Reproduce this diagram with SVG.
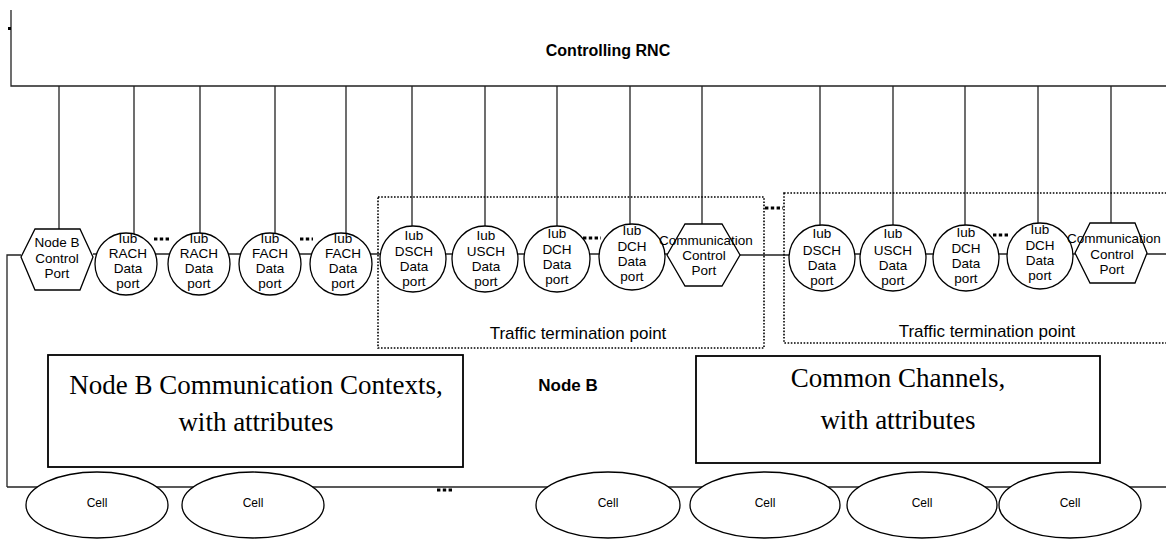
<svg xmlns="http://www.w3.org/2000/svg" width="1166" height="541" viewBox="0 0 1166 541">
<style>
.ln{stroke:#222;stroke-width:1.3;fill:none}
.sh{stroke:#000;stroke-width:1.3;fill:#fff}
.t{font-family:"Liberation Sans",Arial,sans-serif;font-size:13.5px;text-anchor:middle;fill:#000}
.c{font-family:"Liberation Sans",Arial,sans-serif;font-size:12px;text-anchor:middle;fill:#000}
.b{font-family:"Liberation Sans",Arial,sans-serif;font-size:16px;font-weight:bold;text-anchor:middle;fill:#000}
.b2{font-family:"Liberation Sans",Arial,sans-serif;font-size:17px;font-weight:bold;text-anchor:middle;fill:#000}
.tt{font-family:"Liberation Sans",Arial,sans-serif;font-size:17px;text-anchor:middle;fill:#000}
.tm{font-family:"Liberation Serif","Times New Roman",serif;font-size:27px;text-anchor:middle;fill:#000}
.dots{stroke:#000;stroke-width:3.2;stroke-dasharray:3.4 2.4;fill:none}
.dr{stroke:#000;stroke-width:1.6;stroke-dasharray:1.6 1.6;fill:none}
.bx{stroke:#000;stroke-width:1.8;fill:#fff}
</style>
<rect width="1166" height="541" fill="#fff"/>

<g id="rnc">
<path class="ln" d="M11,10 V86 H1166"/>
<rect x="8" y="27" width="3" height="3" fill="#000"/>
<text class="b" x="608" y="56">Controlling RNC</text>
</g>

<g id="connectors">
<path class="ln" d="M59,86V229 M134,86V234 M200,86V233 M275,86V233 M346,86V233"/>
<path class="ln" d="M412,86V226 M485,86V226 M557,86V226 M630,86V224 M702,86V224"/>
<path class="ln" d="M820,86V225 M893,86V225 M965,86V225 M1038,86V223 M1111,86V223"/>
<path class="ln" d="M7,487 V255 H21 M93,254 H97 M155,254 H170 M228,254 H241 M299,254 H312 M370,254 H381 M445,254 H453 M517,254 H525 M589,254 H600 M664,254 H668 M740,255 H791 M855,254 H861 M925,254 H934 M998,254 H1008 M1072,254 H1075 M1147,254 H1166"/>
<path class="ln" d="M7,487 H1166"/>
<path class="dots" d="M154,239 H171 M300,239 H313 M583,238 H601 M993,235 H1009 M765,208 H783 M437,490 H452"/>
</g>

<g id="ttp1"><rect class="dr" x="378" y="197" width="386" height="151"/><text class="tt" x="578" y="339">Traffic termination point</text></g>
<g id="ttp2"><rect class="dr" x="784" y="193" width="390" height="150"/><text class="tt" x="987" y="337">Traffic termination point</text></g>

<g id="nodeb-control-port">
<polygon class="sh" points="21,257 35,229 80,229 93,257 80,290 35,290"/>
<text class="t" x="57" y="247">Node B</text><text class="t" x="57" y="263">Control</text><text class="t" x="57" y="278">Port</text>
</g>
<g id="rach1"><circle class="sh" cx="126" cy="264" r="31"/><text class="t" x="128" y="243">Iub</text><text class="t" x="128" y="258">RACH</text><text class="t" x="128" y="273">Data</text><text class="t" x="128" y="288">port</text></g>
<g id="rach2"><circle class="sh" cx="199" cy="264" r="31"/><text class="t" x="199" y="243">Iub</text><text class="t" x="199" y="258">RACH</text><text class="t" x="199" y="273">Data</text><text class="t" x="199" y="288">port</text></g>
<g id="fach1"><circle class="sh" cx="270" cy="264" r="31"/><text class="t" x="270" y="243">Iub</text><text class="t" x="270" y="258">FACH</text><text class="t" x="270" y="273">Data</text><text class="t" x="270" y="288">port</text></g>
<g id="fach2"><circle class="sh" cx="341" cy="264" r="31"/><text class="t" x="343" y="243">Iub</text><text class="t" x="343" y="258">FACH</text><text class="t" x="343" y="273">Data</text><text class="t" x="343" y="288">port</text></g>

<g id="dsch1"><circle class="sh" cx="413" cy="259" r="33"/><text class="t" x="414" y="240">Iub</text><text class="t" x="414" y="256">DSCH</text><text class="t" x="414" y="271">Data</text><text class="t" x="414" y="286">port</text></g>
<g id="usch1"><circle class="sh" cx="485" cy="259" r="33"/><text class="t" x="486" y="240">Iub</text><text class="t" x="486" y="256">USCH</text><text class="t" x="486" y="271">Data</text><text class="t" x="486" y="286">port</text></g>
<g id="dch1"><circle class="sh" cx="557" cy="259" r="33"/><text class="t" x="557" y="238">Iub</text><text class="t" x="557" y="254">DCH</text><text class="t" x="557" y="269">Data</text><text class="t" x="557" y="284">port</text></g>
<g id="dch1b"><circle class="sh" cx="632" cy="257" r="33"/><text class="t" x="632" y="235">Iub</text><text class="t" x="632" y="251">DCH</text><text class="t" x="632" y="266">Data</text><text class="t" x="632" y="281">port</text></g>
<g id="ccp1"><polygon class="sh" points="667,255 685,224 722,224 740,255 722,286 685,286"/><text class="t" x="706" y="245">Communication</text><text class="t" x="704" y="260">Control</text><text class="t" x="704" y="275">Port</text></g>

<g id="dsch2"><circle class="sh" cx="822" cy="258" r="33"/><text class="t" x="822" y="238">Iub</text><text class="t" x="822" y="255">DSCH</text><text class="t" x="822" y="270">Data</text><text class="t" x="822" y="285">port</text></g>
<g id="usch2"><circle class="sh" cx="893" cy="258" r="33"/><text class="t" x="893" y="238">Iub</text><text class="t" x="893" y="255">USCH</text><text class="t" x="893" y="270">Data</text><text class="t" x="893" y="285">port</text></g>
<g id="dch2"><circle class="sh" cx="966" cy="258" r="33"/><text class="t" x="966" y="237">Iub</text><text class="t" x="966" y="253">DCH</text><text class="t" x="966" y="268">Data</text><text class="t" x="966" y="283">port</text></g>
<g id="dch2b"><circle class="sh" cx="1040" cy="256" r="33"/><text class="t" x="1040" y="234">Iub</text><text class="t" x="1040" y="250">DCH</text><text class="t" x="1040" y="265">Data</text><text class="t" x="1040" y="280">port</text></g>
<g id="ccp2"><polygon class="sh" points="1075,253 1090,223 1135,223 1147,253 1135,283 1090,283"/><text class="t" x="1114" y="243">Communication</text><text class="t" x="1112" y="259">Control</text><text class="t" x="1112" y="274">Port</text></g>

<g id="contexts"><rect class="bx" x="48" y="355" width="415" height="112"/><text class="tm" x="256" y="394">Node B Communication Contexts,</text><text class="tm" x="256" y="431">with attributes</text></g>
<text class="b2" x="568" y="391">Node B</text>
<g id="common"><rect class="bx" x="696" y="356" width="404" height="107"/><text class="tm" x="898" y="387">Common Channels,</text><text class="tm" x="898" y="429">with attributes</text></g>

<g id="cell1"><ellipse class="sh" cx="97" cy="505" rx="71" ry="33"/><text class="c" x="97" y="507">Cell</text></g>
<g id="cell2"><ellipse class="sh" cx="253" cy="505" rx="71" ry="33"/><text class="c" x="253" y="507">Cell</text></g>
<g id="cell3"><ellipse class="sh" cx="608" cy="505" rx="72" ry="33"/><text class="c" x="608" y="507">Cell</text></g>
<g id="cell4"><ellipse class="sh" cx="765" cy="505" rx="75" ry="33"/><text class="c" x="765" y="507">Cell</text></g>
<g id="cell5"><ellipse class="sh" cx="922" cy="505" rx="75" ry="33"/><text class="c" x="922" y="507">Cell</text></g>
<g id="cell6"><ellipse class="sh" cx="1070" cy="505" rx="71" ry="33"/><text class="c" x="1070" y="507">Cell</text></g>
</svg>
